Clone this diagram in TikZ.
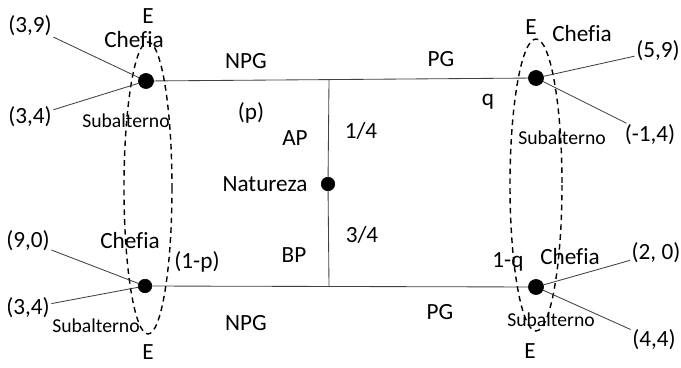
\documentclass[tikz,border=0pt]{standalone}
\usepackage{fontspec}
\setmainfont{Carlito}[Ligatures=NoCommon]
\usetikzlibrary{positioning}

\begin{document}
\begin{tikzpicture}[x=0.025cm, y=-0.025cm,
    every node/.style={font=\fontsize{16.5}{18}\selectfont},
    dot/.style={draw, circle, fill=black, inner sep=0pt, minimum size=0.38cm},
    sub/.style={font=\fontsize{14}{16}\selectfont, inner sep=0pt},
    payoff/.style={inner sep=1pt},
    conj/.style={inner sep=0.5pt},
    ramo/.style={line width=0.6pt, black!75},
    info/.style={dashed, line width=1pt, dash pattern=on 4pt off 3pt}]
    \useasboundingbox (0,0) rectangle (681,367);

    % Decision nodes
    \node (tl) [dot] at (146,81) {};
    \node (tr) [dot] at (536,78) {};
    \node (bl) [dot, minimum size=0.34cm] at (145,286) {};
    \node (br) [dot] at (536,287) {};
    \node (nat) [dot, minimum size=0.34cm] at (328,184) {};
    \coordinate (ntop) at (329,80);
    \coordinate (nbot) at (329,286);

    % Branches
    \draw[ramo] (tl) -- (tr);
    \draw[ramo] (bl) -- (br);
    \draw[ramo] (ntop) -- (nat) -- (nbot);

    % Information sets
    \draw[info] (148,188) ellipse [x radius=24, y radius=146];
    \draw[info] (536,185) ellipse [x radius=26, y radius=146];

    % Labels in the middle
    \node (npg1) at (246,61) {NPG};
    \node (pg1) at (441,59) {PG};
    \node (npg2) at (246,323) {NPG};
    \node (pg2) at (440,312) {PG};
    \node (p) at (251,113) {(p)};
    \node (ap) at (295,138) {AP};
    \node (um) at (361,131) {1/4};
    \node (natlab) at (265,184) {Natureza};
    \node (tres) at (362,235) {3/4};
    \node (bp) at (294,255) {BP};
    \node (q) at (488,102) {q};
    \node (umq) at (508,262) {1-q};
    \node (ump) at (197,262) {(1-p)};

    % Left side
    \node (e1) [conj] at (148,16) {E};
    \node (e2) [conj] at (148,352) {E};
    \node (ch1) at (134,40) {Chefia};
    \node (sb1) [sub] at (126,121) {Subalterno};
    \node (ch2) at (130,241) {Chefia};
    \node (sb2) [sub] at (96,326) {Subalterno};
    \node (a1) [payoff] at (30,26) {(3,9)};
    \node (a2) [payoff] at (30,117) {(3,4)};
    \node (a3) [payoff] at (28,241) {(9,0)};
    \node (a4) [payoff] at (28,308) {(3,4)};
    \draw[ramo] (a1) -- (tl);
    \draw[ramo] (a2) -- (tl);
    \draw[ramo] (a3) -- (bl);
    \draw[ramo] (a4) -- (bl);

    % Right side
    \node (e3) [conj] at (531,27) {E};
    \node (e4) [conj] at (530,351) {E};
    \node (ch3) at (582,34) {Chefia};
    \node (sb3) [sub] at (562,138) {Subalterno};
    \node (ch4) at (570,257) {Chefia};
    \node (sb4) [sub] at (551,320) {Subalterno};
    \node (b1) [payoff] at (658,51) {(5,9)};
    \node (b2) [payoff] at (650,135) {(-1,4)};
    \node (b3) [payoff] at (656,253) {(2, 0)};
    \node (b4) [payoff] at (654,340) {(4,4)};
    \draw[ramo] (b1) -- (tr);
    \draw[ramo] (b2) -- (tr);
    \draw[ramo] (b3) -- (br);
    \draw[ramo] (b4) -- (br);
\end{tikzpicture}
\end{document}
